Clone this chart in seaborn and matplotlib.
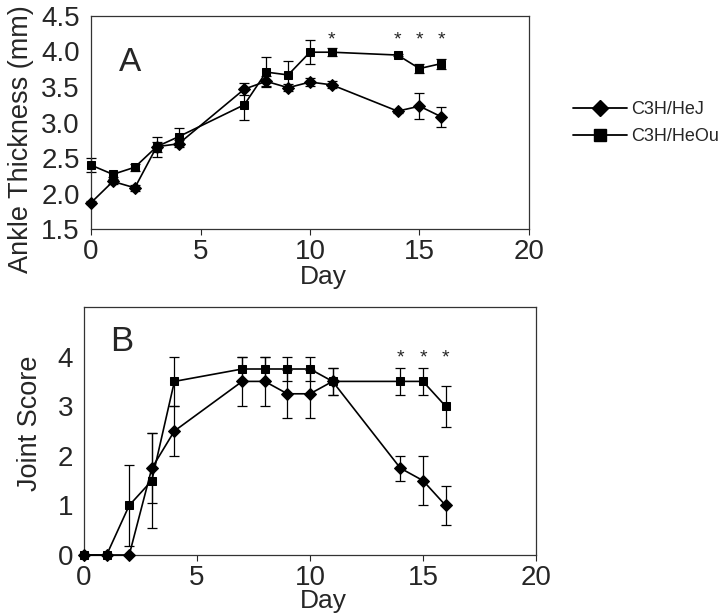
import matplotlib
matplotlib.use("Agg")
import matplotlib.pyplot as plt
import seaborn as sns
import pandas as pd

sns.set_style("white")
plt.rcParams['font.family'] = ['Liberation Sans', 'DejaVu Sans']

# ---- data ----
strains = ['C3H/HeJ', 'C3H/HeOu']

# Panel A: ankle thickness (mm)
days_a = [0, 1, 2, 3, 4, 7, 8, 9, 10, 11, 14, 15, 16]
ankle_hej = [1.87, 2.17, 2.08, 2.66, 2.70, 3.47, 3.58, 3.49, 3.57, 3.53, 3.16, 3.23, 3.08]
ankle_hej_err = [0.02, 0.04, 0.04, 0.07, 0.05, 0.08, 0.07, 0.05, 0.06, 0.05, 0.02, 0.18, 0.14]
ankle_heou = [2.40, 2.27, 2.37, 2.66, 2.80, 3.25, 3.71, 3.67, 3.99, 3.99, 3.95, 3.76, 3.83]
ankle_heou_err = [0.10, 0.04, 0.05, 0.14, 0.12, 0.22, 0.21, 0.19, 0.17, 0.06, 0.02, 0.06, 0.07]
stars_a = [11, 14, 15, 16]

# Panel B: joint score
days_b = [0, 1, 2, 3, 4, 7, 8, 9, 10, 11, 14, 15, 16]
joint_hej = [0, 0, 0, 1.75, 2.5, 3.5, 3.5, 3.25, 3.25, 3.5, 1.75, 1.5, 1.0]
joint_hej_err = [0, 0, 0, 0.70, 0.5, 0.5, 0.5, 0.48, 0.48, 0.28, 0.25, 0.5, 0.4]
joint_heou = [0, 0, 1.0, 1.5, 3.5, 3.75, 3.75, 3.75, 3.75, 3.5, 3.5, 3.5, 3.0]
joint_heou_err = [0, 0, 0.82, 0.95, 0.5, 0.25, 0.25, 0.25, 0.25, 0.28, 0.28, 0.28, 0.41]
stars_b = [14, 15, 16]

df_a = pd.DataFrame({
    'Day': days_a * 2,
    'value': ankle_hej + ankle_heou,
    'err': ankle_hej_err + ankle_heou_err,
    'strain': [strains[0]] * len(days_a) + [strains[1]] * len(days_a),
})
df_b = pd.DataFrame({
    'Day': days_b * 2,
    'value': joint_hej + joint_heou,
    'err': joint_hej_err + joint_heou_err,
    'strain': [strains[0]] * len(days_b) + [strains[1]] * len(days_b),
})

fig = plt.figure(figsize=(7.2, 6.15), dpi=100)
ax1 = fig.add_axes([0.1264, 0.6276, 0.6083, 0.3464])
ax2 = fig.add_axes([0.1167, 0.0976, 0.6277, 0.4032])

markers = {strains[0]: 'D', strains[1]: 's'}
msizes = {strains[0]: 6.0, strains[1]: 5.8}


def draw_panel(ax, df):
    for s in strains:
        d = df[df['strain'] == s]
        ax.errorbar(d['Day'], d['value'], yerr=d['err'], fmt='none',
                    ecolor='black', elinewidth=0.9, capsize=3.5, capthick=0.9,
                    clip_on=False, zorder=2)
        sns.lineplot(data=d, x='Day', y='value', color='black',
                     marker=markers[s], markersize=msizes[s],
                     markeredgecolor='black', linewidth=1.2, ax=ax,
                     clip_on=False, zorder=3)
    ax.set_xlim(0, 20)
    ax.set_xticks([0, 5, 10, 15, 20])
    ax.tick_params(axis='x', direction='out', length=4, width=0.8,
                   labelsize=20, pad=3, bottom=True)
    ax.tick_params(axis='y', length=0, labelsize=20, pad=8)
    for sp in ax.spines.values():
        sp.set_color('#333333')
        sp.set_linewidth(0.9)


draw_panel(ax1, df_a)
ax1.set_ylim(1.5, 4.5)
ax1.set_yticks([1.5, 2.0, 2.5, 3.0, 3.5, 4.0, 4.5])
ax1.set_yticklabels(['%.1f' % t for t in [1.5, 2.0, 2.5, 3.0, 3.5, 4.0, 4.5]])
ax1.set_xlabel('Day', fontsize=19, labelpad=0)
ax1.xaxis.set_label_coords(0.53, -0.17)
ax1.set_ylabel('Ankle Thickness (mm)', fontsize=19.5)
ax1.yaxis.set_label_coords(-0.13, 0.42)
ax1.text(0.09, 0.78, 'A', transform=ax1.transAxes, fontsize=24,
         ha='center', va='center')
for d in stars_a:
    ax1.text(d, 4.16, '*', fontsize=14, ha='center', va='center')

draw_panel(ax2, df_b)
ax2.set_ylim(0, 5)
ax2.set_yticks([0, 1, 2, 3, 4])
ax2.set_xlabel('Day', fontsize=19, labelpad=0)
ax2.xaxis.set_label_coords(0.529, -0.138)
ax2.set_ylabel('Joint Score', fontsize=19.5)
ax2.yaxis.set_label_coords(-0.09, 0.53)
ax2.text(0.083, 0.86, 'B', transform=ax2.transAxes, fontsize=25,
         ha='center', va='center')
for d in stars_b:
    ax2.text(d, 3.98, '*', fontsize=14, ha='center', va='center')

# legend to the right of panel A
handles = [plt.Line2D([], [], color='black', marker='D', markersize=8.5,
                      linewidth=1.3),
           plt.Line2D([], [], color='black', marker='s', markersize=9,
                      linewidth=1.3)]
fig.legend(handles, strains, loc='center left', bbox_to_anchor=(0.796, 0.80),
           frameon=False, fontsize=13, handlelength=3.0, handletextpad=0.2,
           borderaxespad=0, borderpad=0, labelspacing=0.55)

fig.savefig('out.png', dpi=100)
